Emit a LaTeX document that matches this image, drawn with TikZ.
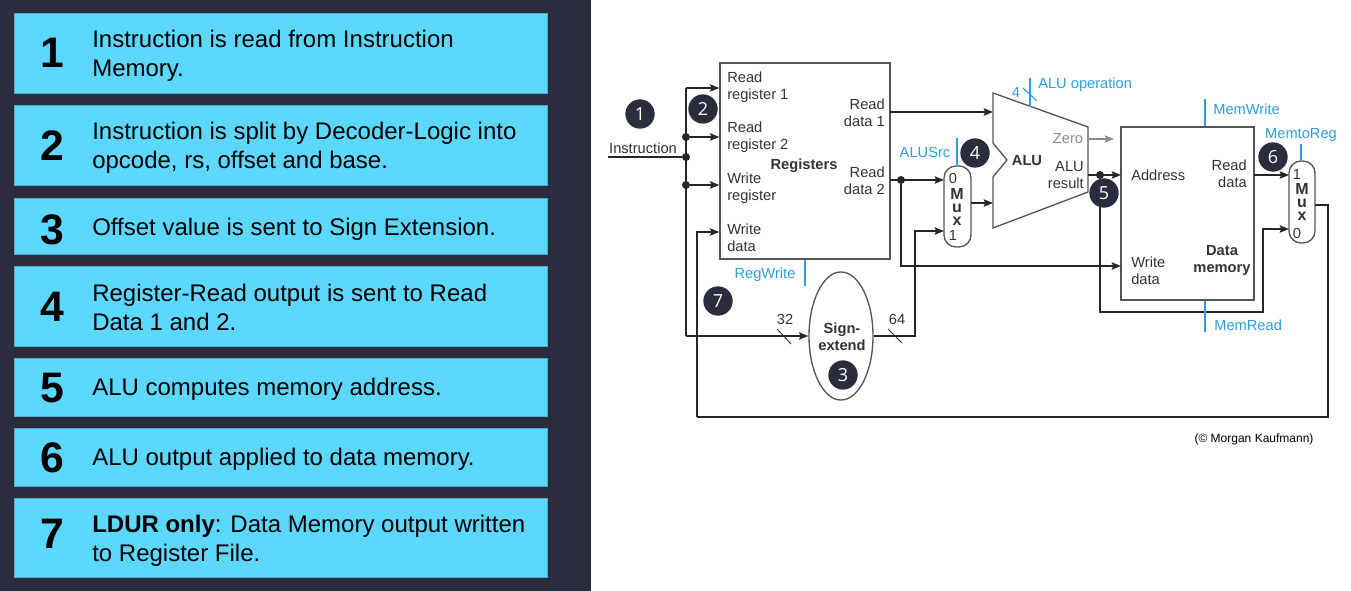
\documentclass[tikz,border=0pt]{standalone}
\usepackage{fontspec}
\setmainfont{Liberation Sans}
\newfontfamily\badgefont{Open Sans}
\usetikzlibrary{arrows.meta, positioning, shapes.geometric, calc}
\definecolor{panel}{HTML}{2B2C3E}
\definecolor{stepblue}{HTML}{5CD8FF}
\definecolor{ctrlblue}{HTML}{2E9FD8}
\definecolor{unitgray}{HTML}{555555}
\definecolor{labelgray}{HTML}{333333}

\begin{document}
\begin{tikzpicture}[x=0.75pt, y=-0.75pt, >={Stealth[length=7pt,width=5.5pt,inset=1.2pt]},
    stepbox/.style={draw=stepblue!80!black, line width=0.3pt, fill=stepblue, minimum width=399.75pt, inner sep=0pt, anchor=north west},
    stepnum/.style={font=\fontsize{32}{36}\selectfont\bfseries, text=black},
    steptext/.style={font=\fontsize{18}{21.75}\selectfont, text=black, align=left, anchor=west, inner sep=0pt, yshift=-1.5pt},
    unit/.style={draw=unitgray, line width=1pt, fill=white, inner sep=0pt, text=labelgray},
    lbl/.style={font=\fontsize{11}{12.75}\selectfont, text=labelgray, inner sep=0pt, yshift=-0.75pt},
    lbll/.style={lbl, align=left, anchor=west},
    lblr/.style={lbl, align=right, anchor=east},
    lblb/.style={lbl, font=\fontsize{11}{12.75}\selectfont\bfseries, align=center},
    muxname/.style={lbl, font=\fontsize{12}{10}\selectfont\bfseries, align=center},
    ctrl/.style={font=\fontsize{11}{12.75}\selectfont, text=ctrlblue, inner sep=0pt, yshift=-1pt},
    ctrlline/.style={draw=ctrlblue, line width=1.1pt},
    wire/.style={draw=black!85, line width=1.25pt},
    slash/.style={draw=black!80, line width=0.7pt},
    junc/.style={circle, fill=black!85, inner sep=0pt, minimum size=6pt},
    badge/.style={circle, fill=panel, text=white, inner sep=0pt, minimum size=22pt, font=\badgefont\fontsize{13.5}{14}\selectfont}]
    \fill[white] (0,0) rectangle (1351,591);
    \useasboundingbox (0,0) rectangle (1351,591);
    \fill[panel] (0,0) rectangle (591,591);

    \node[stepbox, minimum height=60pt] (box1) at (14,13) {};
    \node[stepbox, minimum height=60pt] (box2) at (14,105) {};
    \node[stepbox, minimum height=42pt] (box3) at (14,198) {};
    \node[stepbox, minimum height=60pt] (box4) at (14,266) {};
    \node[stepbox, minimum height=43.5pt] (box5) at (14,358) {};
    \node[stepbox, minimum height=43.5pt] (box6) at (14,428) {};
    \node[stepbox, minimum height=59.25pt] (box7) at (14,498) {};
    \node[stepnum] (num1) at (52,53) {1};
    \node[stepnum] (num2) at (52,146) {2};
    \node[stepnum] (num3) at (52,230) {3};
    \node[stepnum] (num4) at (52,307) {4};
    \node[stepnum] (num5) at (52,388) {5};
    \node[stepnum] (num6) at (52,458) {6};
    \node[stepnum] (num7) at (52,534) {7};
    \node[steptext] (text1) at (92,54) {Instruction is read from Instruction\\Memory.};
    \node[steptext] (text2) at (92,146) {Instruction is split by Decoder-Logic into\\opcode, rs, offset and base.};
    \node[steptext] (text3) at (92,227) {Offset value is sent to Sign Extension.};
    \node[steptext] (text4) at (92,305) {Register-Read output is sent to Read\\Data 1 and 2.};
    \node[steptext] (text5) at (92,387) {ALU computes memory address.};
    \node[steptext] (text6) at (92,457) {ALU output applied to data memory.};
    \node[steptext] (text7) at (92,539) {\textbf{LDUR only}: Data Memory output written\\to Register File.};

    \node[unit, minimum width=127.5pt, minimum height=147pt] (regs) at (805,161) {};
    \node[unit, minimum width=99.75pt, minimum height=129.75pt] (dmem) at (1187.5,213.5) {};
    \node[unit, ellipse, minimum width=48pt, minimum height=96pt] (ext) at (841,336) {};
    \node[unit, rectangle, rounded corners=9pt, minimum width=20.25pt, minimum height=60.75pt] (muxa) at (957.5,206.5) {};
    \node[unit, rectangle, rounded corners=9pt, minimum width=19.5pt, minimum height=61.5pt] (muxb) at (1302,202) {};
    \draw[unit] (993,93) -- (1088,127) -- (1088,192) -- (993,228) -- (993,177) -- (1007,160) -- (993,143) -- cycle;

    \node[lbll] (rr1) at (727,86) {Read\\register 1};
    \node[lbll] (rr2) at (727,136) {Read\\register 2};
    \node[lbll] (wr) at (727,187) {Write\\register};
    \node[lbll] (wd) at (727,237) {Write\\data};
    \node[lblb] (regname) at (804,165) {Registers};
    \node[lblr] (rd1) at (885,112) {Read\\data 1};
    \node[lblr] (rd2) at (885,180) {Read\\data 2};
    \node[lbll] (addr) at (1131,174) {Address};
    \node[lblr] (memrd) at (1247,173) {Read\\data};
    \node[lbll] (memwd) at (1131,270) {Write\\data};
    \node[lblb] (memname) at (1222,259) {Data\\memory};
    \node[lblb] (aluname) at (1027,160) {ALU};
    \node[lblr] (alures) at (1084,174) {ALU\\result};
    \node[lbl, text=black!45] (zero) at (1068,138) {Zero};
    \node[lblb] (extname) at (842,336) {Sign-\\extend};
    \node[lbl] (instr) at (643,147) {Instruction};
    \node[lbl] (bits32) at (785,318) {32};
    \node[lbl] (bits64) at (897,318) {64};
    \node[muxname] (muxaname) at (957,206) {M\\u\\x};
    \node[muxname] (muxbname) at (1302,201) {M\\u\\x};
    \node[lbl] (muxa0) at (953,177) {0};
    \node[lbl] (muxa1) at (953,234) {1};
    \node[lbl] (muxb1) at (1297,173) {1};
    \node[lbl] (muxb0) at (1297,232) {0};

    \coordinate (instrin) at (608,157);
    \coordinate (bustop) at (686,88);
    \coordinate (busbot) at (686,336);
    \node[junc] (j1) at (686,137) {};
    \node[junc] (j2) at (686,157) {};
    \node[junc] (j3) at (686,185) {};
    \node[junc] (j4) at (901,180) {};
    \node[junc] (j5) at (1100,175) {};
    \coordinate (wbleft) at (697,417);
    \coordinate (wbright) at (1328,417);
    \coordinate (wdin) at (697,232);
    \coordinate (muxbout) at (1315,205);
    \coordinate (alua) at (993,112);
    \coordinate (alub) at (993,203);
    \coordinate (aluout) at (1088,175);
    \coordinate (zeroout) at (1088,139);
    \coordinate (zeroend) at (1114,139);
    \coordinate (rd1out) at (890,112);
    \coordinate (rd2out) at (890,180);
    \coordinate (muxaout) at (971,203);
    \coordinate (muxaa) at (944,180);
    \coordinate (muxab) at (944,231);
    \coordinate (extbend) at (915,336);
    \coordinate (memwdin) at (1121,266);
    \coordinate (addrin) at (1121,175);
    \coordinate (memout) at (1254,175);
    \coordinate (muxba) at (1289,175);
    \coordinate (muxbb) at (1289,229);
    \coordinate (bypass) at (1263,312);

    \draw[wire] (instrin) -- (j2);
    \draw[wire] (bustop) -- (busbot);
    \draw[wire,->] (bustop) -- (regs.west |- bustop);
    \draw[wire,->] (j1) -- (regs.west |- j1);
    \draw[wire,->] (j3) -- (regs.west |- j3);
    \draw[wire,->] (busbot) -- (ext.west);
    \draw[wire,->] (wbleft) -- (wdin) -- (regs.west |- wdin);
    \draw[wire] (muxbout) -- (wbright |- muxbout) -- (wbright) -- (wbleft);
    \draw[wire,->] (rd1out) -- (alua);
    \draw[wire,->] (rd2out) -- (muxaa);
    \draw[wire,->] (j4) |- (memwdin);
    \draw[wire,->] (ext.east) -- (extbend) -- (extbend |- muxab) -- (muxab);
    \draw[wire,->] (muxaout) -- (alub);
    \draw[wire,->] (aluout) -- (addrin);
    \draw[wire,->] (j5) |- (bypass) -- (bypass |- muxbb) -- (muxbb);
    \draw[wire,->] (memout) -- (muxba);
    \draw[draw=black!45, line width=0.8pt, ->] (zeroout) -- (zeroend);
    \coordinate (s32a) at (777,329);
    \coordinate (s32b) at (791,344);
    \coordinate (s64a) at (888,329);
    \coordinate (s64b) at (902,343);
    \draw[slash] (s32a) -- (s32b);
    \draw[slash] (s64a) -- (s64b);

    \node[ctrl, anchor=west] (aluop) at (1038,83) {ALU operation};
    \node[ctrl] (aluop4) at (1016,91) {4};
    \node[ctrl, anchor=west] (memwrite) at (1213,108) {MemWrite};
    \node[ctrl, anchor=west] (memread) at (1214,324) {MemRead};
    \node[ctrl] (memtoreg) at (1301,134) {MemtoReg};
    \node[ctrl] (alusrc) at (925,151) {ALUSrc};
    \node[ctrl] (regwrite) at (765,273) {RegWrite};
    \coordinate (op1) at (1030,78);
    \coordinate (op2) at (1030,107);
    \coordinate (os1) at (1023,88);
    \coordinate (os2) at (1037,101);
    \coordinate (mw1) at (1205,99);
    \coordinate (mr1) at (1205,332);
    \coordinate (m2r1) at (1301,144);
    \coordinate (as1) at (957,138);
    \coordinate (rw1) at (805,286);
    \draw[ctrlline] (op1) -- (op2);
    \draw[ctrlline, line width=0.8pt] (os1) -- (os2);
    \draw[ctrlline] (mw1) -- (mw1 |- dmem.north);
    \draw[ctrlline] (mr1) -- (mr1 |- dmem.south);
    \draw[ctrlline] (m2r1) -- (m2r1 |- muxb.north);
    \draw[ctrlline] (as1) -- (as1 |- muxa.north);
    \draw[ctrlline] (rw1) -- (rw1 |- regs.south);

    \node[font=\fontsize{9}{10}\selectfont, inner sep=0pt] (credit) at (1254,439) {(© Morgan Kaufmann)};

    \node[badge] (b1) at (640,114) {1};
    \node[badge] (b2) at (703,109) {2};
    \node[badge] (b3) at (843,375) {3};
    \node[badge] (b4) at (975,153) {4};
    \node[badge] (b5) at (1104,193) {5};
    \node[badge] (b6) at (1273,157) {6};
    \node[badge] (b7) at (718,301) {7};
\end{tikzpicture}
\end{document}
